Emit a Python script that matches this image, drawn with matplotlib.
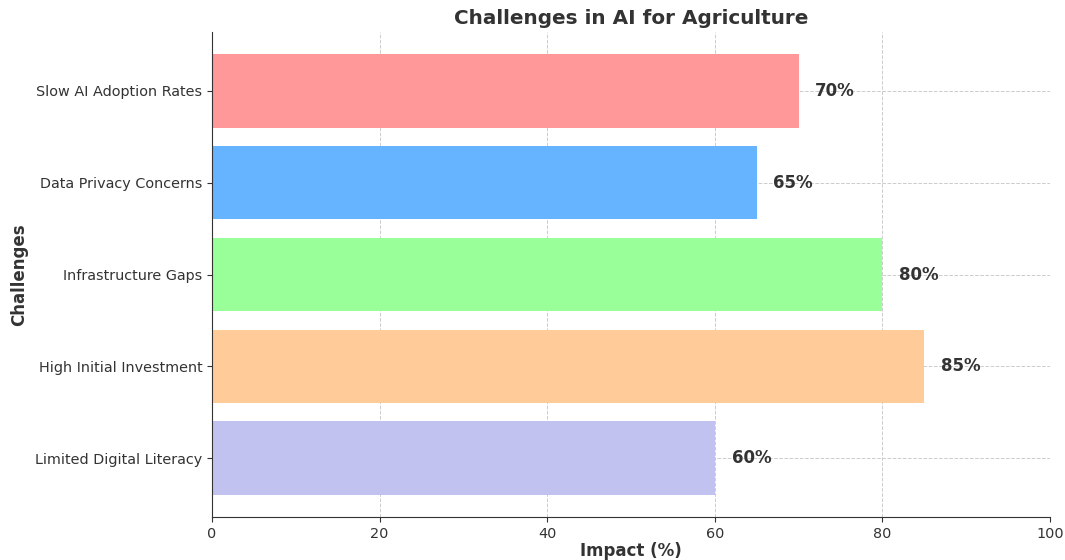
import matplotlib.pyplot as plt

challenges = ['Limited Digital Literacy', 'High Initial Investment', 'Infrastructure Gaps',
              'Data Privacy Concerns', 'Slow AI Adoption Rates']
impact = [60, 85, 80, 65, 70]
colors = ['#c2c2f0', '#ffcc99', '#99ff99', '#66b3ff', '#ff9999']

fig = plt.figure(figsize=(10.65, 5.6), dpi=100)
ax = fig.add_axes([212/1065, 43/560, 838/1065, 485/560])

bars = ax.barh(challenges, impact, color=colors, height=0.8, zorder=2)
for b, v in zip(bars, impact):
    ax.text(v + 2, b.get_y() + b.get_height()/2, f'{v}%', va='center', ha='left',
            fontsize=12, fontweight='bold', color='#333333')

ax.set_xlim(0, 100)
ax.grid(True, linestyle='--', color='#cccccc', linewidth=0.7, zorder=0)
ax.spines['top'].set_visible(False)
ax.spines['right'].set_visible(False)
ax.spines['left'].set_color('#333333')
ax.spines['bottom'].set_color('#333333')
ax.tick_params(labelsize=10.4, colors='#333333')
ax.set_title('Challenges in AI for Agriculture', fontsize=14.4, fontweight='bold', color='#333333')
ax.set_xlabel('Impact (%)', fontsize=12, fontweight='bold', color='#333333', labelpad=1)
ax.set_ylabel('Challenges', fontsize=12, fontweight='bold', color='#333333', labelpad=5)

plt.savefig('out.png')
